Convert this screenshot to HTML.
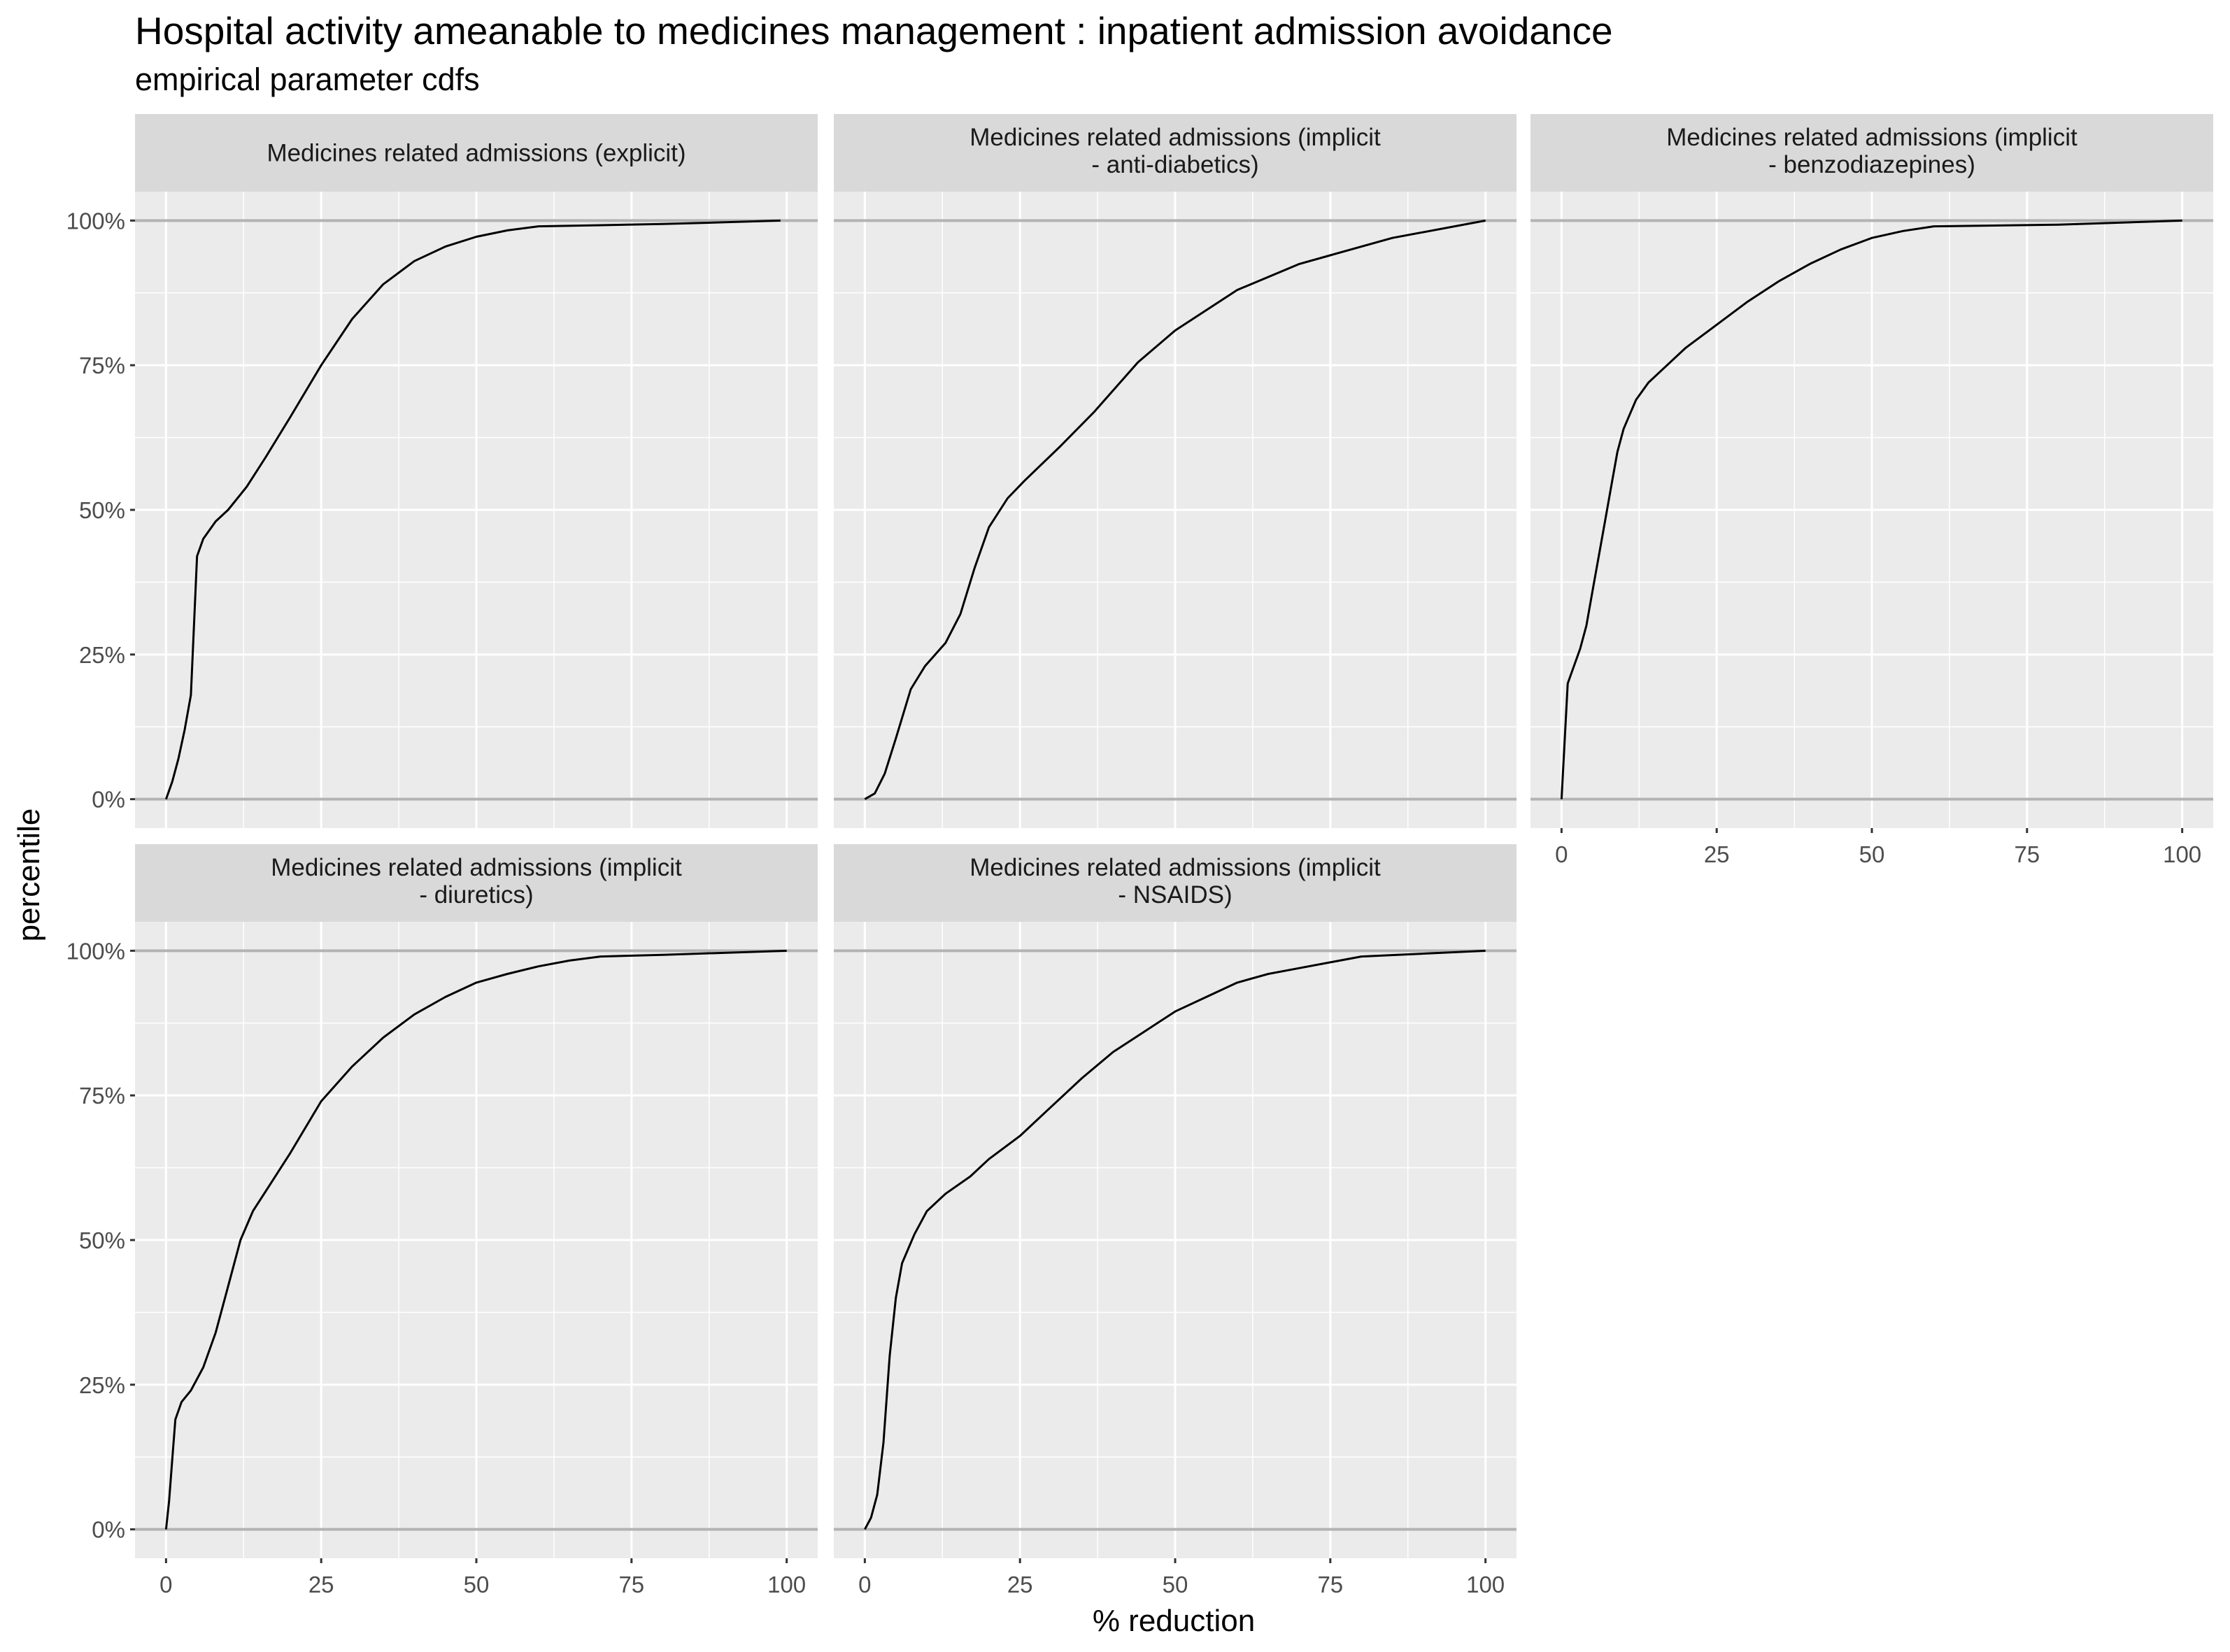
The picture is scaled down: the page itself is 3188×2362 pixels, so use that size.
<!DOCTYPE html>
<html><head><meta charset="utf-8">
<style>
html,body{margin:0;padding:0;background:#fff;}
svg{display:block;font-family:"Liberation Sans",Arial,sans-serif;}
</style></head>
<body>
<svg id="chart" width="3188" height="2362" viewBox="0 0 3188 2362" xmlns="http://www.w3.org/2000/svg">
<rect width="3188" height="2362" fill="#fff"/>
<text x="193" y="63" font-size="55" fill="#000">Hospital activity ameanable to medicines management : inpatient admission avoidance</text>
<text x="193" y="129" font-size="45" fill="#000">empirical parameter cdfs</text>
<text x="0" y="0" font-size="44" fill="#000" text-anchor="middle" transform="translate(56,1251) rotate(-90)">percentile</text>
<text x="1678" y="2332" font-size="44" fill="#000" text-anchor="middle">% reduction</text>
<g id="panels"></g>
</svg>
<script>
const panelTitles = [
  ["Medicines related admissions (explicit)"],
  ["Medicines related admissions (implicit", "- anti-diabetics)"],
  ["Medicines related admissions (implicit", "- benzodiazepines)"],
  ["Medicines related admissions (implicit", "- diuretics)"],
  ["Medicines related admissions (implicit", "- NSAIDS)"]
];
const xTicks = [0, 25, 50, 75, 100];
const yTicks = [0, 0.25, 0.5, 0.75, 1];
const yTickLabels = ["0%", "25%", "50%", "75%", "100%"];
const explicitX = [0,1,2,3,4,4.5,5,6,8,10,13,16,20,25,30,35,40,45,50,55,60,70,80,90,99];
const explicitY = [0,3,7,12,18,30,42,45,48,50,54,59,66,75,83,89,93,95.5,97.2,98.3,99,99.2,99.4,99.7,100];
const antidiabX = [0,1.6,3.2,5,7.4,9.7,13,15.4,17.7,20,23,25.7,31.5,37,44,50,60,70,75,85,100];
const antidiabY = [0,1,4.4,10.5,19,23,27,32,40,47,52,55,61,67,75.5,81,88,92.5,94,97,100];
const benzoX = [0,0.5,1,2,3,4,5,6,7,8,9,10,12,14,17,20,25,30,35,40,45,50,55,60,80,100];
const benzoY = [0,10,20,23,26,30,36,42,48,54,60,64,69,72,75,78,82,86,89.5,92.5,95,97,98.2,99,99.3,100];
const diureticX = [0,0.5,1,1.5,2.5,4,6,8,10,12,14,17,20,25,30,35,40,45,50,55,60,65,70,80,100];
const diureticY = [0,5,12,19,22,24,28,34,42,50,55,60,65,74,80,85,89,92,94.5,96,97.3,98.3,99,99.3,100];
const nsaidX = [0,1,2,3,4,5,6,8,10,13,17,20,25,30,35,40,45,50,55,60,65,70,75,80,90,100];
const nsaidY = [0,2,6,15,30,40,46,51,55,58,61,64,68,73,78,82.5,86,89.5,92,94.5,96,97,98,99,99.5,100];
const seriesX = [explicitX, antidiabX, benzoX, diureticX, nsaidX];
const seriesY = [explicitY, antidiabY, benzoY, diureticY, nsaidY];

const NS = "http://www.w3.org/2000/svg";
const root = document.getElementById("panels");
const colX = [193, 1192, 2188], PW = 976;
const rowStrip = [163, 1207], SH = 111, PH = 910;
function mk(tag, attrs, parent) {
  const e = document.createElementNS(NS, tag);
  for (const k in attrs) e.setAttribute(k, attrs[k]);
  parent.appendChild(e);
  return e;
}
for (let i = 0; i < 5; i++) {
  const c = i % 3, r = Math.floor(i / 3);
  const x0 = colX[c], sy = rowStrip[r], py = sy + SH;
  const sx = v => x0 + (v + 5) / 110 * PW;
  const syv = v => py + PH - (v + 0.05) / 1.1 * PH;
  const g = mk("g", {}, root);
  
  
  const strip = mk("rect", {x: x0, y: sy, width: PW, height: SH, fill: "#D9D9D9"}, g);
  
  
  const lines = panelTitles[i];
  lines.forEach((t, k) => {
    const yy = lines.length === 1 ? sy + SH / 2 + 12 : sy + 45 + k * 39;
    const tx = mk("text", {x: x0 + PW / 2, y: yy, "font-size": 35, fill: "#1A1A1A", "text-anchor": "middle"}, g);
    tx.textContent = t;
    
    
  });
  const bg = mk("rect", {x: x0, y: py, width: PW, height: PH, fill: "#EBEBEB"}, g);
  
  
  for (let v = 12.5; v < 100; v += 25) {
    const l = mk("line", {x1: sx(v), x2: sx(v), y1: py, y2: py + PH, stroke: "#fff", "stroke-width": 1.5}, g);
    
    
  }
  for (let v = 0.125; v < 1; v += 0.25) {
    const l = mk("line", {x1: x0, x2: x0 + PW, y1: syv(v), y2: syv(v), stroke: "#fff", "stroke-width": 1.5}, g);
    
    
  }
  xTicks.forEach(v => {
    const l = mk("line", {x1: sx(v), x2: sx(v), y1: py, y2: py + PH, stroke: "#fff", "stroke-width": 3}, g);
    
    
  });
  yTicks.forEach(v => {
    const l = mk("line", {x1: x0, x2: x0 + PW, y1: syv(v), y2: syv(v), stroke: "#fff", "stroke-width": 3}, g);
    
    
  });
  [0, 1].forEach(v => {
    const l = mk("line", {x1: x0, x2: x0 + PW, y1: syv(v), y2: syv(v), stroke: "#B3B3B3", "stroke-width": 4}, g);
    
    
  });
  const xs = seriesX[i], ys = seriesY[i];
  const d = xs.map((v, k) => (k ? "L" : "M") + sx(v).toFixed(1) + "," + syv(ys[k] / 100).toFixed(1)).join(" ");
  const p = mk("path", {d: d, fill: "none", stroke: "#000", "stroke-width": 3, "stroke-linejoin": "round"}, g);
  
  
  if (c === 0) {
    yTicks.forEach((v, k) => {
      const t = mk("line", {x1: x0 - 7, x2: x0, y1: syv(v), y2: syv(v), stroke: "#333", "stroke-width": 3}, g);
      
      
      const lb = mk("text", {x: x0 - 14, y: syv(v) + 12, "font-size": 33, fill: "#4D4D4D", "text-anchor": "end"}, g);
      lb.textContent = yTickLabels[k];
      
      
    });
  }
  if (r === 1 || i === 2) {
    xTicks.forEach(v => {
      const t = mk("line", {x1: sx(v), x2: sx(v), y1: py + PH, y2: py + PH + 7, stroke: "#333", "stroke-width": 3}, g);
      
      
      const lb = mk("text", {x: sx(v), y: py + PH + 49, "font-size": 33, fill: "#4D4D4D", "text-anchor": "middle"}, g);
      lb.textContent = String(v);
      
      
    });
  }
}
</script>
</body></html>
